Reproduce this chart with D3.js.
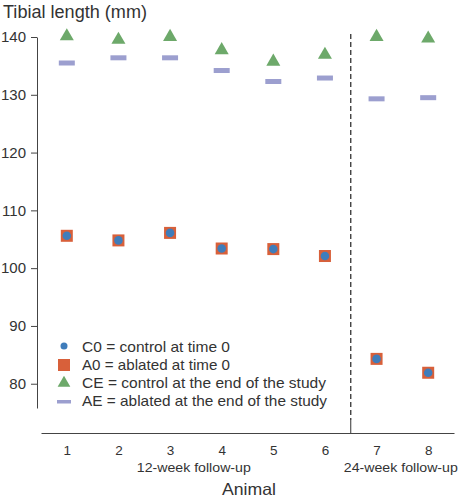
<!DOCTYPE html>
<html><head><meta charset="utf-8">
<script src="https://cdn.jsdelivr.net/npm/d3@7"></script>
<style>body{margin:0;background:#fff}svg{display:block}text{font-family:"Liberation Sans",Arial,sans-serif;fill:#333}</style>
</head><body><svg id="c" width="467" height="500"></svg>
<script>
const animals = [1,2,3,4,5,6,7,8];
const c0 = [105.6,104.8,106.1,103.4,103.3,102.1,84.3,81.9];
const a0 = [105.6,104.8,106.1,103.4,103.3,102.1,84.3,81.9];
const ce = [140.3,139.7,140.2,137.9,135.9,137.1,140.2,139.9];
const ae = [135.5,136.4,136.4,134.2,132.3,132.9,129.3,129.5];
const yTicks = [80,90,100,110,120,130,140];
const groups = [{label:"12-week follow-up", at:3.46},{label:"24-week follow-up", at:7.47}];
const legendItems = ["C0 = control at time 0","A0 = ablated at time 0","CE = control at the end of the study","AE = ablated at the end of the study"];
const legendWidths = [148,148,244,245];

const svg = d3.select("#c");
const x = d3.scaleLinear().domain([0.5,8.5]).range([41,454]);
const y = d3.scaleLinear().domain([75.8,140]).range([408,37]);

const colGreen="#6da96a", colBar="#9c9fcf", colRed="#d8603a", colBlue="#3f7dbb";

svg.append("text").attr("x",3).attr("y",18).attr("font-size",17.5)
  .attr("textLength",144).attr("lengthAdjust","spacingAndGlyphs").text("Tibial length (mm)");

// y axis
const ya = svg.append("g").attr("transform","translate(37,0)")
  .call(d3.axisLeft(y).tickValues(yTicks).tickSize(6).tickSizeOuter(0).tickPadding(5));
ya.select(".domain").attr("stroke","#444");
ya.selectAll(".tick line").attr("stroke","#444");
ya.selectAll(".tick text").attr("font-size",15).attr("fill","#333").attr("font-family","Liberation Sans, Arial, sans-serif");

// x axis
const xa = svg.append("g").attr("transform","translate(0,433)")
  .call(d3.axisBottom(x).tickValues(animals).tickSize(0).tickSizeOuter(0).tickPadding(12.8));
xa.select(".domain").attr("stroke","#444");
xa.selectAll(".tick text").attr("font-size",13.5).attr("fill","#333").attr("font-family","Liberation Sans, Arial, sans-serif");

// separator
svg.append("line").attr("x1",x(6.5)).attr("x2",x(6.5)).attr("y1",34).attr("y2",420)
  .attr("stroke","#333").attr("stroke-width",1.3).attr("stroke-dasharray","5,3");
svg.append("line").attr("x1",x(6.5)).attr("x2",x(6.5)).attr("y1",420).attr("y2",433)
  .attr("stroke","#333").attr("stroke-width",1);

svg.selectAll(".grp").data(groups).join("text").attr("x",d=>x(d.at)).attr("y",472)
  .attr("text-anchor","middle").attr("font-size",13.5)
  .attr("textLength",114).attr("lengthAdjust","spacingAndGlyphs").text(d=>d.label);
svg.append("text").attr("x",249).attr("y",495).attr("text-anchor","middle").attr("font-size",16.5)
  .attr("textLength",54).attr("lengthAdjust","spacingAndGlyphs").text("Animal");

// marks
svg.selectAll(".ae").data(animals).join("rect")
  .attr("x",(d,i)=>x(d)-8).attr("y",(d,i)=>y(ae[i])-2.5).attr("width",16).attr("height",5).attr("fill",colBar);
const tri = d3.symbol().type(d3.symbolTriangle).size(85);
svg.selectAll(".ce").data(animals).join("path")
  .attr("d",tri).attr("transform",(d,i)=>`translate(${x(d)},${y(ce[i])+1})`).attr("fill",colGreen);
svg.selectAll(".a0").data(animals).join("rect")
  .attr("x",(d,i)=>x(d)-6).attr("y",(d,i)=>y(a0[i])-6).attr("width",12).attr("height",12).attr("fill",colRed);
svg.selectAll(".c0").data(animals).join("circle")
  .attr("cx",d=>x(d)).attr("cy",(d,i)=>y(c0[i])).attr("r",4.3).attr("fill",colBlue);

// legend
const lg = svg.append("g");
const ly = [352,370,388,406];
const mx = 64;
lg.append("circle").attr("cx",mx).attr("cy",ly[0]-6).attr("r",3.5).attr("fill",colBlue);
lg.append("rect").attr("x",mx-6).attr("y",ly[1]-11).attr("width",12).attr("height",12).attr("fill",colRed);
lg.append("path").attr("d",d3.symbol().type(d3.symbolTriangle).size(70)).attr("transform",`translate(${mx},${ly[2]-5})`).attr("fill",colGreen);
lg.append("rect").attr("x",mx-7).attr("y",ly[3]-6).attr("width",14).attr("height",3.5).attr("fill",colBar);
lg.selectAll("text.l").data(legendItems).join("text").attr("x",82).attr("y",(d,i)=>ly[i])
  .attr("font-size",14.5).attr("textLength",(d,i)=>legendWidths[i]).attr("lengthAdjust","spacingAndGlyphs").text(d=>d);
</script></body></html>
